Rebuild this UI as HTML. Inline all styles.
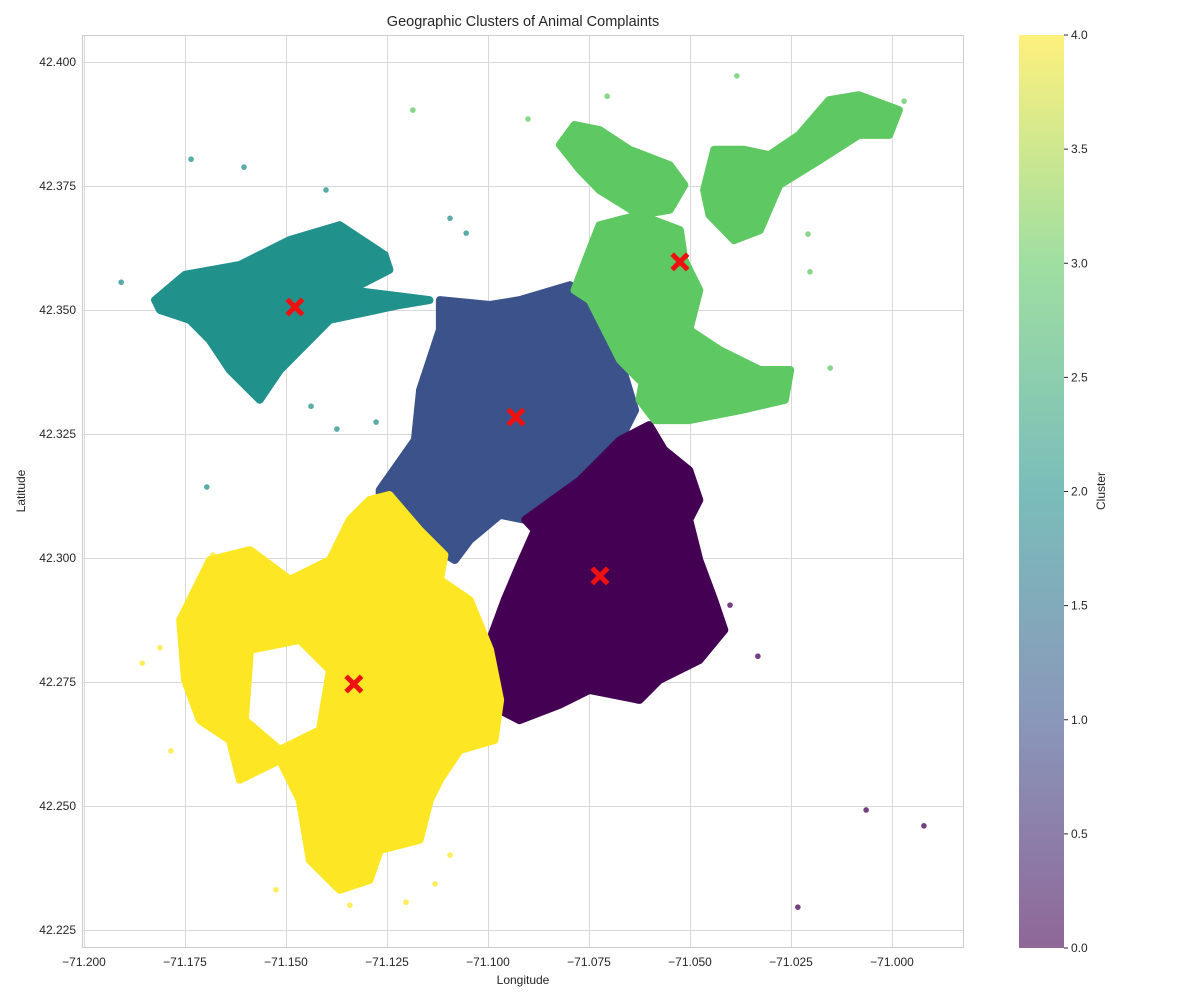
<!DOCTYPE html>
<html><head><meta charset="utf-8"><style>
body{margin:0;background:#fff;font-family:"Liberation Sans",sans-serif;}
svg text{font-family:"Liberation Sans",sans-serif;fill:#262626;}
</style></head><body>
<svg id="chart" width="1200" height="1000" xmlns="http://www.w3.org/2000/svg">
<defs><linearGradient id="vir" x1="0" y1="1" x2="0" y2="0">
<stop offset="0" stop-color="#440154"/><stop offset="0.25" stop-color="#3b528b"/><stop offset="0.5" stop-color="#21918c"/><stop offset="0.75" stop-color="#5ec962"/><stop offset="1" stop-color="#fde725"/></linearGradient></defs>
<text x="523" y="26" text-anchor="middle" font-size="14.5">Geographic Clusters of Animal Complaints</text>
<text x="523" y="984" text-anchor="middle" font-size="12">Longitude</text>
<text transform="translate(25,491) rotate(-90)" text-anchor="middle" font-size="12">Latitude</text>
<text transform="translate(1105,491) rotate(-90)" text-anchor="middle" font-size="12">Cluster</text>
<rect x="82.5" y="35.5" width="881" height="912" fill="#fff" stroke="#cccccc" stroke-width="1"/>
<g id="grid" shape-rendering="crispEdges"></g><g id="marks"></g><g id="ticks"></g>
<rect x="1019" y="35" width="45" height="913" fill="url(#vir)" opacity="0.6"/>
<g id="cbticks"></g>
</svg>
<script>
const xTicks=[-71.2,-71.175,-71.15,-71.125,-71.1,-71.075,-71.05,-71.025,-71.0];
const yTicks=[42.225,42.25,42.275,42.3,42.325,42.35,42.375,42.4];
const cbTicks=[0,0.5,1,1.5,2,2.5,3,3.5,4];
const clusterColors=["#440154","#3b528b","#21918c","#5ec962","#fde725"];
const c2Lon=[-71.1824,-71.1750,-71.1614,-71.1491,-71.1367,-71.1256,-71.1244,-71.1342,-71.1145,-71.1219,-71.1392,-71.1515,-71.1565,-71.1639,-71.1689,-71.1738,-71.1812];
const c2Lat=[42.3520,42.3571,42.3591,42.3641,42.3671,42.3611,42.3581,42.3540,42.3520,42.3510,42.3480,42.3379,42.3319,42.3379,42.3440,42.3480,42.3500];
const c1Lon=[-71.1268,-71.1181,-71.1168,-71.1119,-71.1119,-71.0995,-71.0921,-71.0797,-71.0748,-71.0673,-71.0636,-71.0673,-71.0772,-71.0884,-71.0908,-71.0970,-71.1045,-71.1082,-71.1144,-71.1193,-71.1268];
const c1Lat=[42.3137,42.3238,42.3339,42.3460,42.3520,42.3510,42.3520,42.3550,42.3520,42.3399,42.3298,42.3238,42.3157,42.3097,42.3077,42.3087,42.3036,42.2996,42.3026,42.3067,42.3107];
const c0Lon=[-71.0908,-71.0772,-71.0673,-71.0601,-71.0564,-71.0502,-71.0477,-71.0502,-71.0477,-71.0440,-71.0415,-71.0477,-71.0576,-71.0625,-71.0749,-71.0823,-71.0922,-71.0972,-71.1009,-71.0995,-71.0959,-71.0922,-71.0884];
const c0Lat=[42.3077,42.3157,42.3238,42.3268,42.3218,42.3177,42.3117,42.3077,42.2996,42.2915,42.2855,42.2794,42.2754,42.2714,42.2734,42.2704,42.2673,42.2694,42.2754,42.2835,42.2915,42.2986,42.3056];
const c4Lon=[-71.1293,-71.1244,-71.1169,-71.1108,-71.1119,-71.1045,-71.0995,-71.0970,-71.0984,-71.1070,-71.1119,-71.1144,-71.1169,-71.1268,-71.1293,-71.1367,-71.1441,-71.1466,-71.1515,-71.1614,-71.1639,-71.1713,-71.1750,-71.1762,-71.1688,-71.1589,-71.1490,-71.1391,-71.1342];
const c4Lat=[42.3117,42.3127,42.3056,42.3006,42.2956,42.2915,42.2815,42.2714,42.2633,42.2613,42.2553,42.2512,42.2432,42.2411,42.2351,42.2331,42.2391,42.2512,42.2593,42.2553,42.2633,42.2673,42.2754,42.2875,42.2996,42.3016,42.2956,42.2996,42.3077];
const c4HoleLon=[-71.1589,-71.1466,-71.1391,-71.1416,-71.1515,-71.1602];
const c4HoleLat=[42.2815,42.2835,42.2774,42.2653,42.2613,42.2673];
const c3aLon=[-71.0786,-71.0748,-71.0724,-71.0625,-71.0525,-71.0514,-71.0477,-71.0502,-71.0576,-71.0625,-71.0673,-71.0748];
const c3aLat=[42.3540,42.3621,42.3671,42.3692,42.3661,42.3601,42.3540,42.3460,42.3419,42.3359,42.3399,42.3520];
const c3bLon=[-71.0822,-71.0786,-71.0724,-71.0649,-71.0550,-71.0514,-71.0550,-71.0625,-71.0724,-71.0772];
const c3bLat=[42.3833,42.3873,42.3863,42.3823,42.3792,42.3752,42.3702,42.3692,42.3742,42.3782];
const c3cLon=[-71.0601,-71.0502,-71.0426,-71.0327,-71.0252,-71.0265,-71.0376,-71.0502,-71.0587,-71.0625];
const c3cLat=[42.3429,42.3460,42.3419,42.3379,42.3379,42.3319,42.3298,42.3278,42.3278,42.3319];
const c3dLon=[-71.0465,-71.0440,-71.0366,-71.0304,-71.0230,-71.0156,-71.0082,-70.9983,-71.0007,-71.0082,-71.0180,-71.0279,-71.0327,-71.0391,-71.0452];
const c3dLat=[42.3742,42.3823,42.3823,42.3812,42.3853,42.3923,42.3933,42.3903,42.3853,42.3853,42.3802,42.3752,42.3661,42.3641,42.3692];
const regions=[[2,c2Lon,c2Lat],[1,c1Lon,c1Lat],[0,c0Lon,c0Lat],[3,c3aLon,c3aLat],[3,c3bLon,c3bLat],[3,c3cLon,c3cLat],[3,c3dLon,c3dLat]];
const outCluster=[0,0,0,0,0,2,2,2,2,2,2,2,2,2,2,3,3,3,3,3,3,3,3,4,4,4,4,4,4,4,4,4];
const outLon=[-71.0064,-70.9921,-71.0233,-71.0332,-71.0401,-71.1908,-71.1735,-71.1604,-71.1696,-71.1401,-71.1374,-71.1277,-71.1438,-71.1094,-71.1054,-71.1186,-71.0705,-71.0384,-70.9970,-71.0203,-71.0153,-71.0208,-71.0901,-71.1856,-71.1785,-71.1525,-71.1342,-71.1203,-71.1131,-71.1094,-71.1812,-71.1681];
const outLat=[42.2492,42.2460,42.2296,42.2802,42.2905,42.3556,42.3804,42.3788,42.3143,42.3742,42.3260,42.3274,42.3306,42.3685,42.3655,42.3903,42.3931,42.3972,42.3921,42.3577,42.3383,42.3653,42.3885,42.2788,42.2611,42.2331,42.2300,42.2306,42.2343,42.2401,42.2819,42.3006];
const centLon=[-71.0723,-71.0931,-71.1478,-71.0525,-71.1332];
const centLat=[42.2964,42.3284,42.3506,42.3597,42.2746];

const NS="http://www.w3.org/2000/svg";
const X=v=>84+(v+71.2)*4040;
const Y=v=>62+(42.4-v)*4960;
const CB=v=>948-v/4*913;
function mk(t,a,p){const e=document.createElementNS(NS,t);for(const k in a)e.setAttribute(k,a[k]);p.appendChild(e);return e;}
const grid=document.getElementById('grid'),marks=document.getElementById('marks'),ticks=document.getElementById('ticks'),cbt=document.getElementById('cbticks');
xTicks.forEach(t=>{
 const px=Math.round(X(t))+0.5;
 const l=mk('line',{x1:px,x2:px,y1:36,y2:947,stroke:'#d8d8d8','stroke-width':1},grid);
 
 
 const s=mk('text',{x:X(t),y:966,'text-anchor':'middle','font-size':12},ticks);
 s.textContent='\u2212'+Math.abs(t).toFixed(3);
 
 
});
yTicks.forEach(t=>{
 const py=Math.round(Y(t))+0.5;
 const l=mk('line',{x1:83,x2:963,y1:py,y2:py,stroke:'#d8d8d8','stroke-width':1},grid);
 
 
 const s=mk('text',{x:76,y:Y(t)+4,'text-anchor':'end','font-size':12},ticks);
 s.textContent=t.toFixed(3);
 
 
});
function pts(lo,la){return lo.map((v,i)=>X(v).toFixed(1)+','+Y(la[i]).toFixed(1)).join(' ');}
regions.forEach(r=>{
 const p=mk('polygon',{points:pts(r[1],r[2]),fill:clusterColors[r[0]],stroke:clusterColors[r[0]],'stroke-width':8,'stroke-linejoin':'round'},marks);
 
 
});
{
 const d='M'+pts(c4Lon,c4Lat).split(' ').join(' L')+' Z M'+pts(c4HoleLon,c4HoleLat).split(' ').join(' L')+' Z';
 const p=mk('path',{d:d,'fill-rule':'evenodd',fill:clusterColors[4],stroke:clusterColors[4],'stroke-width':8,'stroke-linejoin':'round'},marks);
 
 
}
outLon.forEach((v,i)=>{
 const c=mk('circle',{cx:X(v),cy:Y(outLat[i]),r:2.8,fill:clusterColors[outCluster[i]],'fill-opacity':0.75},marks);
 
 
});
centLon.forEach((v,i)=>{
 const x=X(v),y=Y(centLat[i]);
 const p=mk('path',{d:`M${x-6},${y-6} L${x+6},${y+6} M${x+6},${y-6} L${x-6},${y+6}`,stroke:'#ee1111','stroke-width':5,'stroke-linecap':'square'},marks);
 
 
});
cbTicks.forEach(t=>{
 mk('line',{x1:1064,x2:1068,y1:CB(t),y2:CB(t),stroke:'#262626'},cbt);
 const s=mk('text',{x:1071,y:CB(t)+4,'font-size':12},cbt);
 s.textContent=t.toFixed(1);
 
 
});
</script>
</body></html>
